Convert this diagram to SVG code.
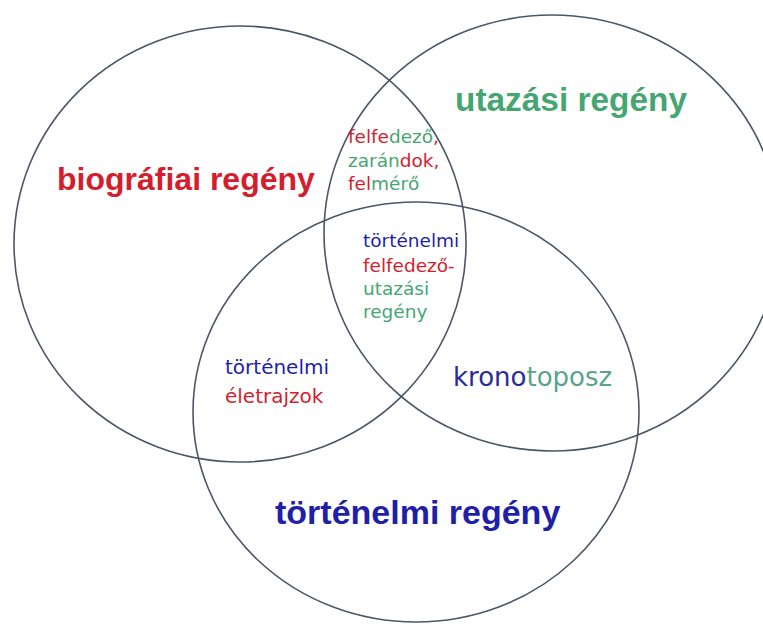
<svg xmlns="http://www.w3.org/2000/svg" width="763" height="624" viewBox="0 0 763 624">
<style>
.c{fill:none;stroke:#4a5668;stroke-width:1.6}
.big{font-family:"Liberation Sans",Arial,sans-serif;font-weight:bold}
.sm{font-family:"DejaVu Sans","Liberation Sans",sans-serif;font-size:18.5px}
.md{font-family:"DejaVu Sans","Liberation Sans",sans-serif;font-size:20px}
.kr{font-family:"DejaVu Sans","Liberation Sans",sans-serif;font-size:26px}
.r{fill:#d41e2e}.g{fill:#46a672}.b{fill:#1f1fa8}.db{fill:#2a2a9a}.t{fill:#5aa48e}
</style>
<rect width="763" height="624" fill="#fff"/>
<g id="circles">
<ellipse id="biografiai" class="c" cx="240" cy="244" rx="226" ry="218"/>
<ellipse id="utazasi" class="c" cx="552" cy="233" rx="228" ry="218"/>
<ellipse id="tortenelmi" class="c" cx="416" cy="412" rx="223" ry="210"/>
</g>
<g id="labels-main">
<text class="big r" x="57" y="190" font-size="32">biográfiai regény</text>
<text class="big g" x="455" y="111" font-size="33.4">utazási regény</text>
<text class="big b" x="275" y="524" font-size="34">történelmi regény</text>
</g>
<g id="bio-utaz">
<text class="sm" x="348" y="143"><tspan class="r">felfe</tspan><tspan class="g">dező</tspan><tspan class="r">,</tspan></text>
<text class="sm" x="348" y="167"><tspan class="g">zarán</tspan><tspan class="r">dok,</tspan></text>
<text class="sm" x="348" y="190"><tspan class="r">fel</tspan><tspan class="g">mérő</tspan></text>
</g>
<g id="center">
<text class="sm b" x="363" y="247">történelmi</text>
<text class="sm r" x="363" y="272">felfedező-</text>
<text class="sm g" x="363" y="295">utazási</text>
<text class="sm g" x="363" y="318">regény</text>
</g>
<g id="bio-tort">
<text class="md b" x="225" y="374">történelmi</text>
<text class="md r" x="225" y="403">életrajzok</text>
</g>
<g id="utaz-tort">
<text class="kr" x="453" y="386"><tspan class="db">krono</tspan><tspan class="t">toposz</tspan></text>
</g>
</svg>
